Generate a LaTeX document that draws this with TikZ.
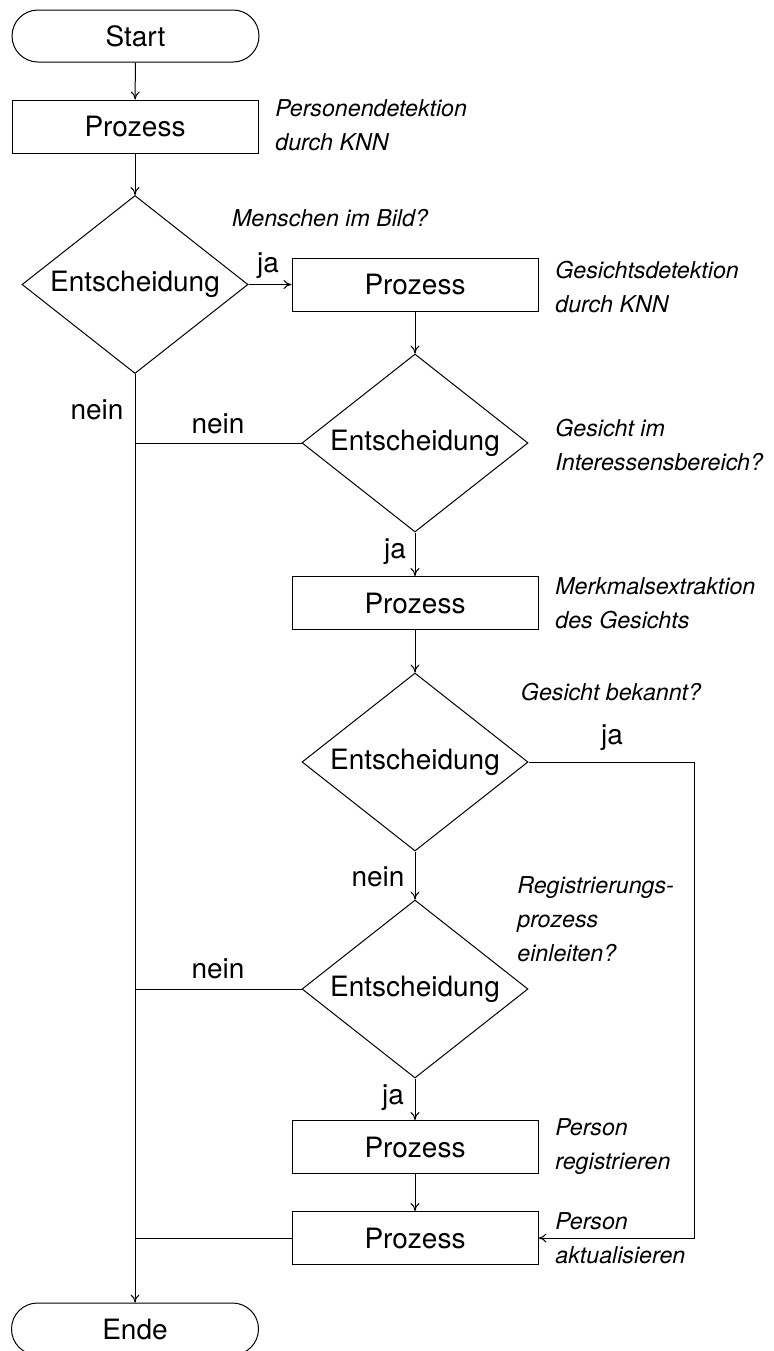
\documentclass[tikz,border=0pt]{standalone}
\usepackage{fontspec}
\setmainfont{TeX Gyre Heros}
\usetikzlibrary{shapes.geometric,arrows.meta}

\begin{document}
\begin{tikzpicture}[x=0.5pt,y=-0.5pt,
		every node/.style={font=\fontsize{14}{17}\selectfont},
		term/.style={draw,rectangle,rounded corners=13pt,minimum width=123.5pt,minimum height=26pt,line width=0.5pt},
		proc/.style={draw,rectangle,minimum width=123pt,minimum height=26.5pt,line width=0.5pt},
		decide/.style={draw,diamond,aspect=1.27,inner sep=0pt,minimum width=113pt,minimum height=89pt,line width=0.5pt},
		note/.style={font=\fontsize{11.6}{17}\selectfont\itshape,align=left,anchor=west,inner sep=0pt},
		flow/.style={line width=0.5pt,-{To[length=4pt,width=4.5pt]}},
		link/.style={line width=0.5pt}]
		\useasboundingbox (0,0) rectangle (773,1351);
		\node[term] (start) at (135.5,36) {Start};
		\node[proc] (p1) at (135,126.5) {Prozess};
		\node[decide] (d1) at (135,284.5) {Entscheidung};
		\node[proc] (p2) at (415,284.5) {Prozess};
		\node[decide] (d2) at (415,443) {Entscheidung};
		\node[proc] (p3) at (415,603) {Prozess};
		\node[decide] (d3) at (415,762) {Entscheidung};
		\node[decide] (d4) at (415,989) {Entscheidung};
		\node[proc] (p4) at (415,1147) {Prozess};
		\node[proc] (p5) at (415,1238) {Prozess};
		\node[term] (ende) at (135,1329) {Ende};
		\coordinate (M2) at (135,443);
		\coordinate (M4) at (135,989);
		\coordinate (M5) at (135,1238);
		\coordinate (R3) at (694,762);
		\coordinate (R5) at (694,1238);
		\draw[flow] (start) to (p1);
		\draw[flow] (p1) to (d1);
		\draw[flow] (d1.east) to (p2.west);
		\draw[flow] (d1.south) to (ende.north);
		\draw[link] (d2.west) to (M2);
		\draw[flow] (p2) to (d2);
		\draw[flow] (d2) to (p3);
		\draw[flow] (p3) to (d3);
		\draw[flow] (d3.east) -- (R3) -- (R5) -- (p5.east);
		\draw[flow] (d3) to (d4);
		\draw[link] (d4.west) to (M4);
		\draw[flow] (d4) to (p4);
		\draw[flow] (p4) to (p5);
		\draw[link] (p5.west) to (M5);
		\node (ja1) at (268,266) {ja};
		\node (nein1) at (97,410) {nein};
		\node (nein2) at (218,424) {nein};
		\node (ja2) at (395,552) {ja};
		\node (ja3) at (612,738) {ja};
		\node (nein3) at (378,877) {nein};
		\node (nein4) at (218,969) {nein};
		\node (ja4) at (393,1098) {ja};
		\node[note] (n1) at (275,125) {Personendetektion\\durch KNN};
		\node[note,anchor=center] (n2) at (330,218) {Menschen im Bild?};
		\node[note] (n3) at (555,287) {Gesichtsdetektion\\durch KNN};
		\node[note] (n4) at (555,445) {Gesicht im\\Interessensbereich?};
		\node[note] (n5) at (555,603) {Merkmalsextraktion\\des Gesichts};
		\node[note,anchor=center] (n6) at (611,692) {Gesicht bekannt?};
		\node[note] (n7) at (517,919) {Registrierungs-\\prozess\\einleiten?};
		\node[note] (n8) at (555,1147) {Person\\registrieren};
		\node[note] (n9) at (555,1238) {Person\\aktualisieren};
	\end{tikzpicture}
\end{document}
